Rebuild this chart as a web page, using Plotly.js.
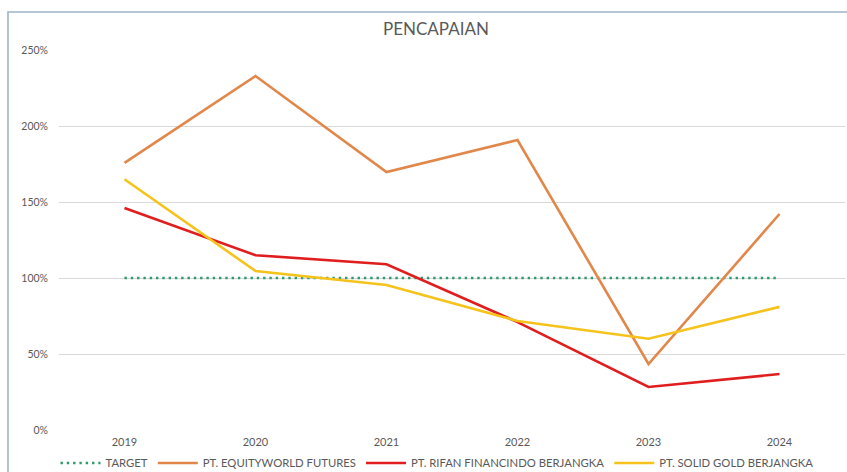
<!DOCTYPE html>
<html>
<head>
<meta charset="utf-8">
<script src="https://cdn.plot.ly/plotly-3.0.1.min.js"></script>
<style>
html,body{margin:0;padding:0;background:#ffffff;}
#chart{width:847px;height:472px;}
</style>
</head>
<body>
<div id="chart"></div>
<script>
const years = ["2019", "2020", "2021", "2022", "2023", "2024"];
const target = [100, 100, 100, 100, 100, 100];
const equityworld = [175.7, 232.9, 169.7, 190.8, 43.4, 142.1];
const rifan = [146, 115, 109, 71, 28.3, 36.8];
const solidGold = [165, 104.6, 95.4, 71.7, 60, 81];
const yTicks = [0, 50, 100, 150, 200, 250];
const yTickText = ["0%", "50%", "100%", "150%", "200%", "250%"];

const FONT = "Lato, 'Open Sans', sans-serif";

const traces = [
  {x: years, y: target, name: "TARGET", type: "scatter", mode: "lines",
   line: {color: "#2f9a6a", width: 2.4, dash: "2.4px,3.9px"}},
  {x: years, y: equityworld, name: "PT. EQUITYWORLD FUTURES", type: "scatter", mode: "lines",
   line: {color: "#e2874a", width: 2.6}},
  {x: years, y: rifan, name: "PT. RIFAN FINANCINDO BERJANGKA", type: "scatter", mode: "lines",
   line: {color: "#e01e1e", width: 2.6}},
  {x: years, y: solidGold, name: "PT. SOLID GOLD BERJANGKA", type: "scatter", mode: "lines",
   line: {color: "#f5c31c", width: 2.6}}
];

const layout = {
  width: 847, height: 472,
  margin: {l: 59, r: 2, t: 50, b: 42},
  paper_bgcolor: "#ffffff", plot_bgcolor: "#ffffff",
  font: {family: FONT, color: "#595959", size: 11},
  title: {text: "PENCAPAIAN", font: {family: FONT, size: 17, color: "#595959"},
          x: 436/847, xanchor: "center", xref: "container", y: 1 - 29/472, yanchor: "middle", yref: "container"},
  showlegend: true,
  legend: {orientation: "h", xref: "container", yref: "container",
           x: 437/847, xanchor: "center", y: 1 - 463/472, yanchor: "middle",
           font: {family: FONT, size: 11.3, color: "#595959"}, itemwidth: 40, tracegroupgap: 0,
           bgcolor: "rgba(0,0,0,0)"},
  xaxis: {type: "category", categoryarray: years, range: [-0.5, 5.5], showgrid: false,
          zeroline: false, showline: false, ticks: "", ticklabelstandoff: 4,
          tickfont: {size: 11, color: "#595959"}, fixedrange: true, automargin: false},
  yaxis: {range: [0, 250], tickvals: yTicks, ticktext: yTickText, showgrid: true,
          gridcolor: "#d9d9d9", gridwidth: 1, zeroline: false, showline: false, ticks: "",
          ticklabelstandoff: 10, tickfont: {size: 10.5, color: "#595959"}, fixedrange: true,
          automargin: false},
  shapes: [
    {type: "path", xref: "paper", yref: "paper",
     path: "M -0.0649,-0.2 L -0.0649,1.1 L 1.05,1.1",
     line: {color: "#9fb4c8", width: 1.6}}
  ]
};

Plotly.newPlot("chart", traces, layout, {displayModeBar: false, staticPlot: true});
</script>
</body>
</html>
